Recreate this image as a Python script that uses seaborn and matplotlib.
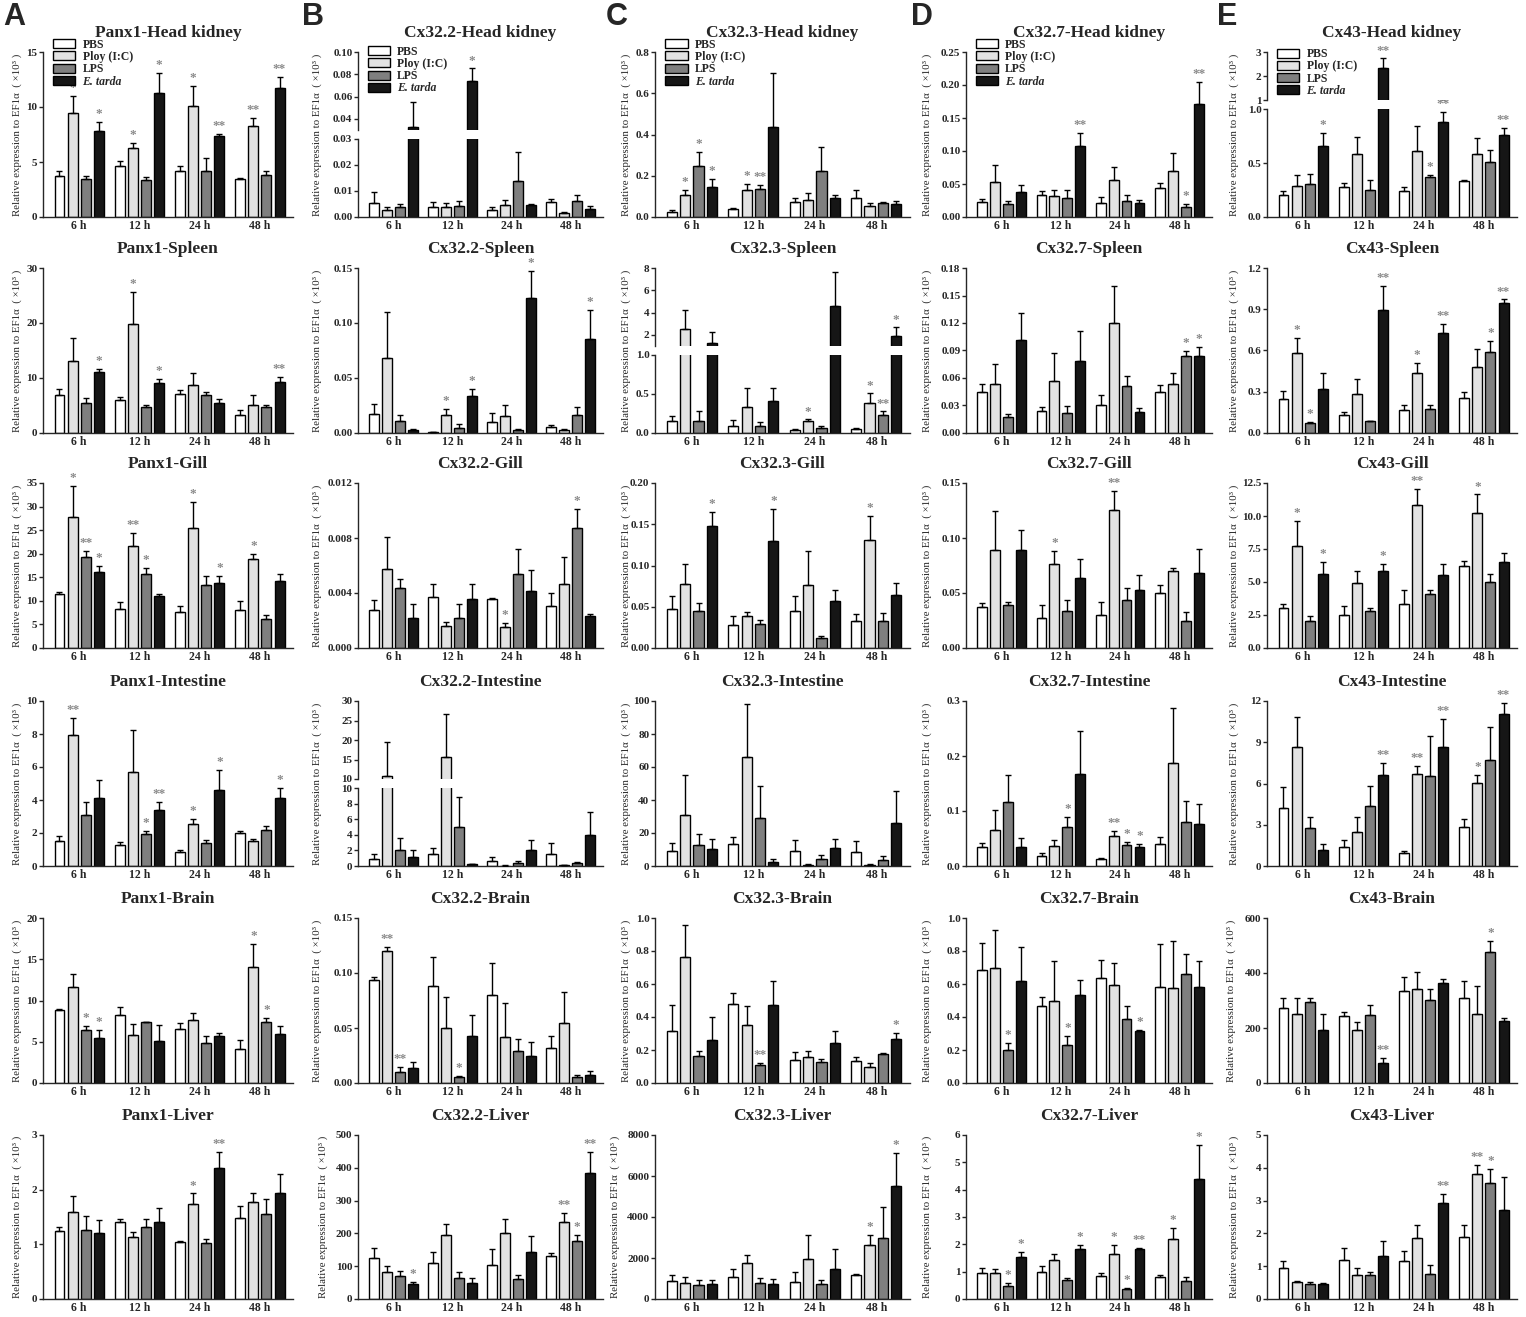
import matplotlib
matplotlib.use('Agg')
import matplotlib.pyplot as plt
from matplotlib.container import BarContainer
from matplotlib.patches import Patch
import pandas as pd
import seaborn as sns

times = ['6 h', '12 h', '24 h', '48 h']
treatments = ['PBS', 'Ploy (I:C)', 'LPS', 'E. tarda']
colors = ['#ffffff', '#e2e2e2', '#7f7f7f', '#161616']
genes = ['Panx1', 'Cx32.2', 'Cx32.3', 'Cx32.7', 'Cx43']
organs = ['Head kidney', 'Spleen', 'Gill', 'Intestine', 'Brain', 'Liver']
ylab = 'Relative expression to EF1α  ( ×10³ )'

# rows = time point (6, 12, 24, 48 h), columns = PBS, Poly(I:C), LPS, E. tarda
# ---------------- Panx1 ----------------
panx1_head_kidney_mean = [[3.7, 9.5, 3.45, 7.8], [4.6, 6.3, 3.4, 11.3], [4.15, 10.05, 4.15, 7.4], [3.5, 8.25, 3.85, 11.7]]
panx1_head_kidney_err = [[0.5, 1.5, 0.25, 0.85], [0.5, 0.45, 0.2, 1.8], [0.5, 1.9, 1.2, 0.15], [0.05, 0.75, 0.35, 1.05]]
panx1_head_kidney_sig = [['', '*', '', '*'], ['', '*', '', '*'], ['', '*', '', '**'], ['', '**', '', '**']]

panx1_spleen_mean = [[6.85, 13.0, 5.45, 11.0], [6.05, 19.8, 4.7, 9.0], [7.1, 8.8, 6.85, 5.5], [3.2, 5.0, 4.7, 9.3]]
panx1_spleen_err = [[1.2, 4.3, 0.9, 0.7], [0.45, 5.8, 0.4, 0.9], [0.8, 2.1, 0.6, 0.75], [0.9, 1.9, 0.4, 0.8]]
panx1_spleen_sig = [['', '', '', '*'], ['', '*', '', '*'], ['', '', '', ''], ['', '', '', '**']]

panx1_gill_mean = [[11.35, 27.75, 19.2, 16.2], [8.2, 21.6, 15.6, 11.0], [7.7, 25.4, 13.3, 13.8], [8.1, 18.8, 6.1, 14.2]]
panx1_gill_err = [[0.55, 6.65, 1.4, 1.3], [1.6, 2.7, 1.3, 0.5], [1.2, 5.5, 1.9, 1.5], [1.8, 1.1, 0.9, 1.6]]
panx1_gill_sig = [['', '*', '**', '*'], ['', '**', '*', ''], ['', '*', '', '*'], ['', '*', '', '']]

panx1_intestine_mean = [[1.52, 7.95, 3.1, 4.1], [1.3, 5.7, 1.92, 3.38], [0.83, 2.53, 1.42, 4.6], [2.0, 1.5, 2.2, 4.1]]
panx1_intestine_err = [[0.28, 1.05, 0.75, 1.1], [0.15, 2.55, 0.18, 0.52], [0.17, 0.3, 0.18, 1.2], [0.1, 0.15, 0.23, 0.6]]
panx1_intestine_sig = [['', '**', '', ''], ['', '', '*', '**'], ['', '*', '', '*'], ['', '', '', '*']]

panx1_brain_mean = [[8.83, 11.6, 6.37, 5.5], [8.3, 5.85, 7.34, 5.08], [6.57, 7.66, 4.84, 5.65], [4.07, 14.03, 7.38, 5.93]]
panx1_brain_err = [[0.17, 1.6, 0.53, 0.95], [0.9, 1.35, 0.06, 1.97], [0.68, 0.81, 0.89, 0.45], [1.09, 2.82, 0.48, 0.92]]
panx1_brain_sig = [['', '', '*', '*'], ['', '', '', ''], ['', '', '', ''], ['', '*', '*', '']]

panx1_liver_mean = [[1.25, 1.6, 1.26, 1.2], [1.4, 1.13, 1.32, 1.41], [1.04, 1.73, 1.02, 2.39], [1.48, 1.78, 1.56, 1.94]]
panx1_liver_err = [[0.07, 0.28, 0.25, 0.25], [0.07, 0.09, 0.15, 0.26], [0.03, 0.2, 0.08, 0.3], [0.22, 0.15, 0.27, 0.34]]
panx1_liver_sig = [['', '', '', ''], ['', '', '', ''], ['', '*', '', '**'], ['', '', '', '']]

# ---------------- Cx32.2 ----------------
cx322_head_kidney_mean = [[0.0053, 0.0027, 0.0039, 0.033], [0.0037, 0.0037, 0.0043, 0.0744], [0.0026, 0.0048, 0.014, 0.0047], [0.0056, 0.0017, 0.0061, 0.003]]
cx322_head_kidney_err = [[0.0044, 0.0012, 0.0012, 0.022], [0.0019, 0.0016, 0.0017, 0.011], [0.0011, 0.0016, 0.011, 0.0002], [0.0014, 0.0004, 0.0022, 0.0013]]
cx322_head_kidney_sig = [['', '', '', ''], ['', '', '', '*'], ['', '', '', ''], ['', '', '', '']]

cx322_spleen_mean = [[0.0171, 0.0683, 0.0107, 0.0028], [0.001, 0.0162, 0.0049, 0.0337], [0.0098, 0.0153, 0.0031, 0.1224], [0.0058, 0.0031, 0.0162, 0.0857]]
cx322_spleen_err = [[0.009, 0.0413, 0.0061, 0.0006], [0.0002, 0.0052, 0.0037, 0.0063], [0.008, 0.0101, 0.0009, 0.0251], [0.0012, 0.0003, 0.0074, 0.0263]]
cx322_spleen_sig = [['', '', '', ''], ['', '*', '', '*'], ['', '', '', '*'], ['', '', '', '*']]

cx322_gill_mean = [[0.00277, 0.00571, 0.00439, 0.0022], [0.00372, 0.0016, 0.0022, 0.00359], [0.00357, 0.00155, 0.00541, 0.00417], [0.00302, 0.00467, 0.00876, 0.00235]]
cx322_gill_err = [[0.00075, 0.00235, 0.0006, 0.00097], [0.00097, 0.00032, 0.00097, 0.0011], [0.00003, 0.0003, 0.00182, 0.00152], [0.001, 0.00194, 0.00132, 0.0001]]
cx322_gill_sig = [['', '', '', ''], ['', '', '', ''], ['', '*', '', ''], ['', '', '*', '']]

cx322_intestine_mean = [[0.94, 10.7, 2.1, 1.2], [1.6, 15.7, 5.0, 0.25], [0.64, 0.05, 0.34, 2.04], [1.6, 0.13, 0.43, 4.0]]
cx322_intestine_err = [[0.56, 8.9, 1.5, 0.8], [0.7, 10.9, 3.8, 0.05], [0.56, 0.02, 0.3, 1.24], [1.4, 0.02, 0.07, 2.9]]
cx322_intestine_sig = [['', '', '', ''], ['', '', '', ''], ['', '', '', ''], ['', '', '', '']]

cx322_brain_mean = [[0.0934, 0.1197, 0.0099, 0.0136], [0.0878, 0.0501, 0.0056, 0.043], [0.0801, 0.0418, 0.0288, 0.0241], [0.0315, 0.055, 0.0059, 0.0077]]
cx322_brain_err = [[0.0034, 0.0043, 0.0046, 0.0056], [0.0272, 0.0282, 0.0012, 0.0186], [0.0289, 0.0306, 0.0111, 0.0133], [0.0112, 0.0279, 0.0012, 0.0034]]
cx322_brain_sig = [['', '**', '**', ''], ['', '', '*', ''], ['', '', '', ''], ['', '', '', '']]

cx322_liver_mean = [[125, 83, 69, 45.5], [110, 194, 64, 47.6], [105, 202, 60, 142], [130, 235, 178, 384]]
cx322_liver_err = [[32, 17, 17, 5], [34, 34, 17, 17], [46, 43, 12, 51], [11, 27, 18, 65]]
cx322_liver_sig = [['', '', '', '*'], ['', '', '', ''], ['', '', '', ''], ['', '**', '*', '**']]

# ---------------- Cx32.3 ----------------
cx323_head_kidney_mean = [[0.024, 0.109, 0.246, 0.145], [0.0386, 0.132, 0.138, 0.434], [0.0707, 0.0835, 0.222, 0.093], [0.093, 0.053, 0.069, 0.064]]
cx323_head_kidney_err = [[0.008, 0.024, 0.069, 0.041], [0.0034, 0.029, 0.016, 0.262], [0.022, 0.032, 0.115, 0.015], [0.037, 0.0145, 0.003, 0.013]]
cx323_head_kidney_sig = [['', '*', '*', '*'], ['', '*', '**', ''], ['', '', '', ''], ['', '', '', '']]

cx323_spleen_mean = [[0.156, 2.54, 0.152, 1.28], [0.093, 0.333, 0.093, 0.413], [0.042, 0.148, 0.063, 4.6], [0.05, 0.38, 0.236, 1.94]]
cx323_spleen_err = [[0.068, 1.65, 0.135, 1.02], [0.072, 0.245, 0.046, 0.165], [0.013, 0.033, 0.021, 3.04], [0.018, 0.135, 0.047, 0.75]]
cx323_spleen_sig = [['', '', '', ''], ['', '', '', ''], ['', '*', '', ''], ['', '*', '**', '*']]

cx323_gill_mean = [[0.0474, 0.0775, 0.0445, 0.148], [0.0276, 0.0383, 0.0285, 0.1295], [0.045, 0.0763, 0.0124, 0.057], [0.0326, 0.1315, 0.0326, 0.0647]]
cx323_gill_err = [[0.0161, 0.0245, 0.0103, 0.017], [0.0114, 0.0057, 0.0049, 0.0385], [0.0185, 0.0412, 0.0016, 0.0136], [0.009, 0.0285, 0.0103, 0.0141]]
cx323_gill_sig = [['', '', '', '*'], ['', '', '', '*'], ['', '', '', ''], ['', '*', '', '']]

cx323_intestine_mean = [[9.1, 30.8, 12.6, 10.5], [13.2, 66.1, 28.8, 2.6], [9.1, 0.8, 4.5, 10.8], [8.3, 0.8, 3.4, 26.0]]
cx323_intestine_err = [[5.1, 24.6, 6.9, 6.1], [4.4, 32.1, 19.9, 1.4], [6.7, 0.3, 2.0, 5.8], [6.9, 0.3, 2.7, 19.2]]
cx323_intestine_sig = [['', '', '', ''], ['', '', '', ''], ['', '', '', ''], ['', '', '', '']]

cx323_brain_mean = [[0.317, 0.766, 0.162, 0.261], [0.479, 0.354, 0.107, 0.471], [0.141, 0.156, 0.125, 0.242], [0.131, 0.097, 0.174, 0.267]]
cx323_brain_err = [[0.158, 0.194, 0.034, 0.141], [0.064, 0.115, 0.016, 0.149], [0.049, 0.038, 0.018, 0.071], [0.029, 0.024, 0.008, 0.036]]
cx323_brain_sig = [['', '', '', ''], ['', '', '**', ''], ['', '', '', ''], ['', '', '', '*']]

cx323_liver_mean = [[874, 792, 676, 709], [1089, 1733, 759, 726], [808, 1947, 709, 1485], [1155, 2640, 2970, 5528]]
cx323_liver_err = [[296, 280, 248, 198], [396, 412, 247, 247], [528, 1155, 198, 957], [49, 462, 1535, 1584]]
cx323_liver_sig = [['', '', '', ''], ['', '', '', ''], ['', '', '', ''], ['', '*', '', '*']]

# ---------------- Cx32.7 ----------------
cx327_head_kidney_mean = [[0.023, 0.0536, 0.0204, 0.0372], [0.0332, 0.0316, 0.029, 0.107], [0.0214, 0.0566, 0.0245, 0.0214], [0.0434, 0.07, 0.0153, 0.1714]]
cx327_head_kidney_err = [[0.005, 0.025, 0.0031, 0.0118], [0.0056, 0.0092, 0.0118, 0.02], [0.0092, 0.0199, 0.0082, 0.0041], [0.0086, 0.0264, 0.0051, 0.0336]]
cx327_head_kidney_sig = [['', '', '', ''], ['', '', '', '**'], ['', '', '', ''], ['', '', '*', '**']]

cx327_spleen_mean = [[0.0443, 0.0536, 0.0174, 0.1016], [0.024, 0.0562, 0.0218, 0.0783], [0.0303, 0.1201, 0.0517, 0.0229], [0.0451, 0.0532, 0.0843, 0.0843]]
cx327_spleen_err = [[0.0093, 0.0222, 0.0037, 0.0296], [0.0045, 0.0314, 0.0078, 0.0333], [0.0115, 0.0407, 0.0104, 0.0041], [0.0077, 0.0126, 0.0055, 0.0092]]
cx327_spleen_sig = [['', '', '', ''], ['', '', '', ''], ['', '', '', ''], ['', '', '*', '*']]

cx327_gill_mean = [[0.0376, 0.0893, 0.0391, 0.0887], [0.0277, 0.0767, 0.0339, 0.064], [0.0296, 0.1257, 0.044, 0.053], [0.0499, 0.0702, 0.0246, 0.0684]]
cx327_gill_err = [[0.0037, 0.0354, 0.0031, 0.0188], [0.0114, 0.0114, 0.0101, 0.0167], [0.0126, 0.0169, 0.0105, 0.0135], [0.0071, 0.0022, 0.0077, 0.0215]]
cx327_gill_sig = [['', '', '', ''], ['', '*', '', ''], ['', '**', '', ''], ['', '', '', '']]

cx327_intestine_mean = [[0.034, 0.0655, 0.1158, 0.034], [0.018, 0.0364, 0.0715, 0.1667], [0.0133, 0.0545, 0.0376, 0.034], [0.0394, 0.1867, 0.0794, 0.0758]]
cx327_intestine_err = [[0.007, 0.0363, 0.0497, 0.0163], [0.005, 0.0109, 0.017, 0.0793], [0.0006, 0.0097, 0.0066, 0.0054], [0.0139, 0.1, 0.0394, 0.0362]]
cx327_intestine_sig = [['', '', '', ''], ['', '', '*', ''], ['', '**', '*', '*'], ['', '', '', '']]

cx327_brain_mean = [[0.686, 0.7, 0.199, 0.619], [0.467, 0.499, 0.231, 0.531], [0.637, 0.592, 0.389, 0.316], [0.58, 0.574, 0.659, 0.58]]
cx327_brain_err = [[0.16, 0.229, 0.044, 0.207], [0.056, 0.239, 0.053, 0.094], [0.109, 0.134, 0.076, 0.004], [0.264, 0.288, 0.12, 0.162]]
cx327_brain_sig = [['', '', '*', ''], ['', '', '*', ''], ['', '', '', '*'], ['', '', '', '']]

cx327_liver_mean = [[0.953, 0.953, 0.47, 1.553], [1.0, 1.435, 0.706, 1.824], [0.824, 1.647, 0.365, 1.847], [0.812, 2.2, 0.67, 4.376]]
cx327_liver_err = [[0.165, 0.153, 0.118, 0.176], [0.2, 0.2, 0.059, 0.141], [0.141, 0.341, 0.045, 0.023], [0.058, 0.388, 0.118, 1.271]]
cx327_liver_sig = [['', '', '*', '*'], ['', '', '', '*'], ['', '*', '*', '**'], ['', '*', '', '*']]

# ---------------- Cx43 ----------------
cx43_head_kidney_mean = [[0.209, 0.286, 0.308, 0.655], [0.277, 0.582, 0.252, 2.32], [0.246, 0.612, 0.375, 0.886], [0.338, 0.585, 0.508, 0.763]]
cx43_head_kidney_err = [[0.037, 0.108, 0.092, 0.13], [0.04, 0.163, 0.093, 0.45], [0.037, 0.231, 0.019, 0.092], [0.01, 0.15, 0.11, 0.068]]
cx43_head_kidney_sig = [['', '', '', '*'], ['', '', '', '**'], ['', '', '*', '**'], ['', '', '', '**']]

cx43_spleen_mean = [[0.246, 0.58, 0.07, 0.321], [0.128, 0.285, 0.085, 0.894], [0.169, 0.435, 0.176, 0.725], [0.254, 0.483, 0.592, 0.947]]
cx43_spleen_err = [[0.061, 0.113, 0.01, 0.114], [0.024, 0.109, 0.004, 0.176], [0.036, 0.072, 0.029, 0.07], [0.043, 0.128, 0.077, 0.024]]
cx43_spleen_sig = [['', '*', '*', ''], ['', '', '', '**'], ['', '*', '', '**'], ['', '', '*', '**']]

cx43_gill_mean = [[3.0, 7.75, 2.05, 5.57], [2.52, 4.95, 2.77, 5.83], [3.31, 10.8, 4.1, 5.52], [6.19, 10.19, 5.03, 6.49]]
cx43_gill_err = [[0.34, 1.85, 0.39, 0.98], [0.64, 0.9, 0.26, 0.56], [1.08, 1.26, 0.26, 0.87], [0.41, 1.44, 0.54, 0.72]]
cx43_gill_sig = [['', '*', '', '*'], ['', '', '', '*'], ['', '**', '', ''], ['', '*', '', '']]

cx43_intestine_mean = [[4.2, 8.62, 2.77, 1.19], [1.36, 2.5, 4.37, 6.59], [0.95, 6.71, 6.54, 8.62], [2.82, 6.06, 7.68, 11.05]]
cx43_intestine_err = [[1.53, 2.24, 0.81, 0.39], [0.55, 1.1, 1.43, 0.88], [0.15, 0.57, 2.89, 2.05], [0.59, 0.57, 2.44, 0.79]]
cx43_intestine_sig = [['', '', '', ''], ['', '', '', '**'], ['', '**', '', '**'], ['', '*', '', '**']]

cx43_brain_mean = [[274, 250, 293, 191], [244, 191, 248, 72], [335, 341, 301, 362], [308, 250, 476, 226]]
cx43_brain_err = [[34, 58, 15, 61], [16, 32, 34, 19], [49, 64, 40, 18], [62, 104, 40, 12]]
cx43_brain_sig = [['', '', '', ''], ['', '', '', '**'], ['', '', '', ''], ['', '', '*', '']]

cx43_liver_mean = [[0.93, 0.52, 0.45, 0.47], [1.18, 0.72, 0.72, 1.31], [1.17, 1.87, 0.76, 2.93], [1.88, 3.81, 3.53, 2.7]]
cx43_liver_err = [[0.24, 0.03, 0.07, 0.03], [0.39, 0.23, 0.1, 0.47], [0.3, 0.38, 0.27, 0.28], [0.39, 0.29, 0.42, 1.02]]
cx43_liver_sig = [['', '', '', ''], ['', '', '', ''], ['', '', '', '**'], ['', '**', '*', '']]

panels = {
    ('Panx1', 'Head kidney'): (panx1_head_kidney_mean, panx1_head_kidney_err, panx1_head_kidney_sig),
    ('Panx1', 'Spleen'): (panx1_spleen_mean, panx1_spleen_err, panx1_spleen_sig),
    ('Panx1', 'Gill'): (panx1_gill_mean, panx1_gill_err, panx1_gill_sig),
    ('Panx1', 'Intestine'): (panx1_intestine_mean, panx1_intestine_err, panx1_intestine_sig),
    ('Panx1', 'Brain'): (panx1_brain_mean, panx1_brain_err, panx1_brain_sig),
    ('Panx1', 'Liver'): (panx1_liver_mean, panx1_liver_err, panx1_liver_sig),
    ('Cx32.2', 'Head kidney'): (cx322_head_kidney_mean, cx322_head_kidney_err, cx322_head_kidney_sig),
    ('Cx32.2', 'Spleen'): (cx322_spleen_mean, cx322_spleen_err, cx322_spleen_sig),
    ('Cx32.2', 'Gill'): (cx322_gill_mean, cx322_gill_err, cx322_gill_sig),
    ('Cx32.2', 'Intestine'): (cx322_intestine_mean, cx322_intestine_err, cx322_intestine_sig),
    ('Cx32.2', 'Brain'): (cx322_brain_mean, cx322_brain_err, cx322_brain_sig),
    ('Cx32.2', 'Liver'): (cx322_liver_mean, cx322_liver_err, cx322_liver_sig),
    ('Cx32.3', 'Head kidney'): (cx323_head_kidney_mean, cx323_head_kidney_err, cx323_head_kidney_sig),
    ('Cx32.3', 'Spleen'): (cx323_spleen_mean, cx323_spleen_err, cx323_spleen_sig),
    ('Cx32.3', 'Gill'): (cx323_gill_mean, cx323_gill_err, cx323_gill_sig),
    ('Cx32.3', 'Intestine'): (cx323_intestine_mean, cx323_intestine_err, cx323_intestine_sig),
    ('Cx32.3', 'Brain'): (cx323_brain_mean, cx323_brain_err, cx323_brain_sig),
    ('Cx32.3', 'Liver'): (cx323_liver_mean, cx323_liver_err, cx323_liver_sig),
    ('Cx32.7', 'Head kidney'): (cx327_head_kidney_mean, cx327_head_kidney_err, cx327_head_kidney_sig),
    ('Cx32.7', 'Spleen'): (cx327_spleen_mean, cx327_spleen_err, cx327_spleen_sig),
    ('Cx32.7', 'Gill'): (cx327_gill_mean, cx327_gill_err, cx327_gill_sig),
    ('Cx32.7', 'Intestine'): (cx327_intestine_mean, cx327_intestine_err, cx327_intestine_sig),
    ('Cx32.7', 'Brain'): (cx327_brain_mean, cx327_brain_err, cx327_brain_sig),
    ('Cx32.7', 'Liver'): (cx327_liver_mean, cx327_liver_err, cx327_liver_sig),
    ('Cx43', 'Head kidney'): (cx43_head_kidney_mean, cx43_head_kidney_err, cx43_head_kidney_sig),
    ('Cx43', 'Spleen'): (cx43_spleen_mean, cx43_spleen_err, cx43_spleen_sig),
    ('Cx43', 'Gill'): (cx43_gill_mean, cx43_gill_err, cx43_gill_sig),
    ('Cx43', 'Intestine'): (cx43_intestine_mean, cx43_intestine_err, cx43_intestine_sig),
    ('Cx43', 'Brain'): (cx43_brain_mean, cx43_brain_err, cx43_brain_sig),
    ('Cx43', 'Liver'): (cx43_liver_mean, cx43_liver_err, cx43_liver_sig),
}

# y axis: (top, step, label format)
scales = {
    ('Panx1', 'Head kidney'): (15, 5, '%d'), ('Panx1', 'Spleen'): (30, 10, '%d'),
    ('Panx1', 'Gill'): (35, 5, '%d'), ('Panx1', 'Intestine'): (10, 2, '%d'),
    ('Panx1', 'Brain'): (20, 5, '%d'), ('Panx1', 'Liver'): (3, 1, '%d'),
    ('Cx32.2', 'Spleen'): (0.15, 0.05, '%.2f'), ('Cx32.2', 'Gill'): (0.012, 0.004, '%.3f'),
    ('Cx32.2', 'Brain'): (0.15, 0.05, '%.2f'), ('Cx32.2', 'Liver'): (500, 100, '%d'),
    ('Cx32.3', 'Head kidney'): (0.8, 0.2, '%.1f'), ('Cx32.3', 'Gill'): (0.20, 0.05, '%.2f'),
    ('Cx32.3', 'Intestine'): (100, 20, '%d'), ('Cx32.3', 'Brain'): (1.0, 0.2, '%.1f'),
    ('Cx32.3', 'Liver'): (8000, 2000, '%d'),
    ('Cx32.7', 'Head kidney'): (0.25, 0.05, '%.2f'), ('Cx32.7', 'Spleen'): (0.18, 0.03, '%.2f'),
    ('Cx32.7', 'Gill'): (0.15, 0.05, '%.2f'), ('Cx32.7', 'Intestine'): (0.3, 0.1, '%.1f'),
    ('Cx32.7', 'Brain'): (1.0, 0.2, '%.1f'), ('Cx32.7', 'Liver'): (6, 1, '%d'),
    ('Cx43', 'Spleen'): (1.2, 0.3, '%.1f'), ('Cx43', 'Gill'): (12.5, 2.5, '%.1f'),
    ('Cx43', 'Intestine'): (12, 3, '%d'), ('Cx43', 'Brain'): (600, 200, '%d'),
    ('Cx43', 'Liver'): (5, 1, '%d'),
}

# broken axes: lower (lo, hi, ticks, fmt), upper (lo, hi, ticks, fmt), share of height for upper part
broken = {
    ('Cx32.2', 'Head kidney'): ((0, 0.03, [0, 0.01, 0.02, 0.03], '%.2f'), (0.03, 0.10, [0.04, 0.06, 0.08, 0.10], '%.2f'), 0.5),
    ('Cx32.2', 'Intestine'): ((0, 10, [0, 2, 4, 6, 8, 10], '%d'), (10, 30, [10, 15, 20, 25, 30], '%d'), 0.5),
    ('Cx32.3', 'Spleen'): ((0, 1.0, [0, 0.5, 1.0], '%.1f'), (1, 8, [2, 4, 6, 8], '%d'), 0.5),
    ('Cx43', 'Head kidney'): ((0, 1.0, [0, 0.5, 1.0], '%.1f'), (1, 3, [1, 2, 3], '%d'), 0.31),
}

sns.set_style('ticks')
plt.rcParams['font.family'] = ['Liberation Serif', 'DejaVu Serif']
plt.rcParams['font.weight'] = 'bold'
plt.rcParams['axes.linewidth'] = 1.0

W, H = 1526, 1317
fig = plt.figure(figsize=(W / 100, H / 100), dpi=100)

col_left = [43, 358, 655, 966, 1267]
col_right = [293, 603, 910, 1212, 1517]
col_label_off = [17, 32, 20, 30, 24]
label_off_extra = {('Cx32.3', 'Liver'): 31, ('Cx43', 'Brain'): 27, ('Cx32.2', 'Liver'): 26}
row_top = [52, 268, 483, 701, 918, 1135]
row_bot = [217, 433, 648, 866, 1083, 1299]
letter_x = [3, 302, 606, 911, 1217]


def to_frame(mean):
    rows = []
    for i, t in enumerate(times):
        for j, tr in enumerate(treatments):
            rows.append({'time': t, 'treatment': tr, 'value': mean[i][j]})
    return pd.DataFrame(rows)


def draw_bars(ax, mean, err, sig, lo, hi, star_lo, star_hi):
    sns.barplot(data=to_frame(mean), x='time', y='value', hue='treatment',
                order=times, hue_order=treatments,
                palette=dict(zip(treatments, colors)), saturation=1,
                width=0.87, gap=0.24, edgecolor='black', linewidth=1.0,
                errorbar=None, legend=False, ax=ax)
    bar_sets = [cont for cont in ax.containers if isinstance(cont, BarContainer)]
    for j, bars in enumerate(bar_sets):
        for i, bar in enumerate(bars):
            x = bar.get_x() + bar.get_width() / 2
            m, e = mean[i][j], err[i][j]
            ax.errorbar(x, m, yerr=[[0], [e]], fmt='none', ecolor='black',
                        elinewidth=1.0, capsize=2.4, capthick=1.0, zorder=3)
            s = sig[i][j]
            if s and star_lo <= m + e < star_hi:
                ax.text(x, m + e + 0.012 * (hi - lo), s, ha='center', va='bottom',
                        color='#8a8a8a', fontsize=9.5, clip_on=False)


def style_axis(ax, lo, hi, ticks, fmt, show_x=True):
    ax.set_ylim(lo, hi)
    ax.set_xlim(-0.6, 3.55)
    ax.set_yticks(ticks)
    ax.set_yticklabels([fmt % t for t in ticks])
    ax.set_xlabel('')
    ax.set_ylabel('')
    sns.despine(ax=ax)
    ax.tick_params(axis='y', direction='out', length=3, width=1.0, labelsize=8, pad=1)
    ax.tick_params(axis='x', length=0, labelsize=8.5, pad=2.5)
    if not show_x:
        ax.spines['bottom'].set_visible(False)
        ax.tick_params(axis='x', labelbottom=False)


def add_legend(ax):
    handles = [Patch(facecolor=c, edgecolor='black', linewidth=1.0) for c in colors]
    leg = ax.legend(handles, treatments, loc='upper left', bbox_to_anchor=(0.04, 1.08),
                    frameon=False, prop={'size': 8.5, 'weight': 'bold'},
                    handlelength=1.9, handleheight=0.8, labelspacing=0.02,
                    handletextpad=0.6, borderpad=0, borderaxespad=0)
    leg.get_texts()[3].set_style('italic')


for c, gene in enumerate(genes):
    fig.text(letter_x[c] / W, 1 - 2 / H, 'ABCDE'[c], ha='left', va='top',
             fontsize=22, fontweight='bold', family='Liberation Sans')
    for r, organ in enumerate(organs):
        key = (gene, organ)
        mean, err, sig = panels[key]
        l, rr, t, b = col_left[c], col_right[c], row_top[r], row_bot[r]
        w, h = rr - l, b - t
        off = label_off_extra.get(key, col_label_off[c]) + 4
        fig.text((l + rr) / 2 / W, 1 - (t - 19) / H, f'{gene}-{organ}', ha='center',
                 va='center', fontsize=12.5, fontweight='bold')
        if key in broken:
            low, up, frac = broken[key]
            gap = 9
            h_up = (h - gap) * frac
            h_lo = (h - gap) - h_up
            ax_lo = fig.add_axes([l / W, 1 - b / H, w / W, h_lo / H])
            ax_up = fig.add_axes([l / W, 1 - (t + h_up) / H, w / W, h_up / H])
            draw_bars(ax_lo, mean, err, sig, low[0], low[1], -1e9, low[1])
            draw_bars(ax_up, mean, err, sig, up[0], up[1], low[1], 1e9)
            style_axis(ax_lo, *low)
            style_axis(ax_up, *up, show_x=False)
            ax_lo.set_ylabel(ylab, fontsize=7.8)
            ax_lo.yaxis.set_label_coords(-off / w, (h / 2) / h_lo)
            if r == 0:
                add_legend(ax_up)
        else:
            top, step, fmt = scales[key]
            ax = fig.add_axes([l / W, 1 - b / H, w / W, h / H])
            draw_bars(ax, mean, err, sig, 0, top, -1e9, 1e9)
            n = int(round(top / step))
            style_axis(ax, 0, top, [k * step for k in range(n + 1)], fmt)
            ax.set_ylabel(ylab, fontsize=7.8)
            ax.yaxis.set_label_coords(-off / w, 0.5)
            if r == 0:
                add_legend(ax)

fig.savefig('out.png', dpi=100)
